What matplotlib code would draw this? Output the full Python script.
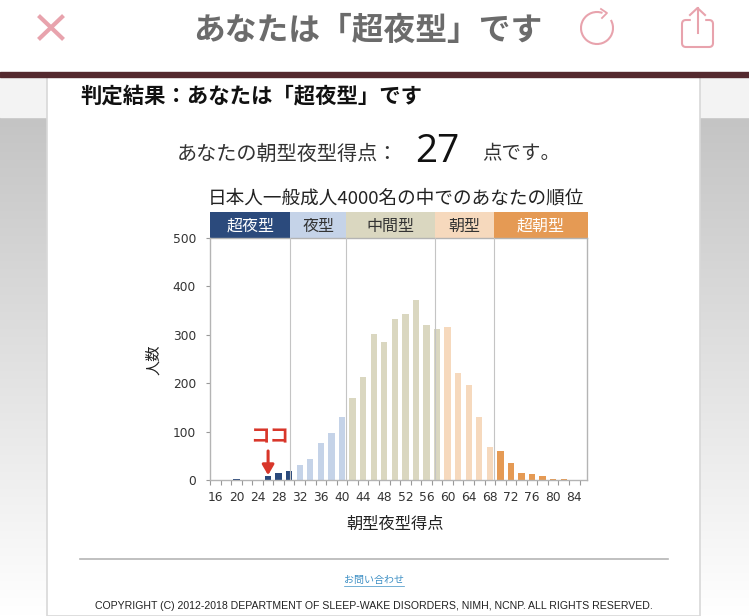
import numpy as np
import matplotlib
matplotlib.use('Agg')
import matplotlib.pyplot as plt
from matplotlib.patches import Rectangle, Arc, FancyBboxPatch

plt.rcParams['font.family'] = ['Noto Sans CJK JP', 'DejaVu Sans']

# Datos
puntajes = [16, 18, 20, 22, 24, 26, 28, 30, 32, 34, 36, 38, 40, 42, 44, 46, 48, 50,
            52, 54, 56, 58, 60, 62, 64, 66, 68, 70, 72, 74, 76, 78, 80, 82, 84]
personas = [0, 0, 3, 0, 0, 8, 14, 18, 31, 43, 77, 98, 131, 170, 213, 302, 285, 332,
            342, 371, 321, 311, 316, 222, 197, 131, 69, 60, 35, 14, 12, 8, 3, 2, 0]
tipos = ['超夜型', '夜型', '中間型', '朝型', '超朝型']
ultimo_puntaje = [30, 40, 58, 68, 84]
limites = [30.2, 40.8, 57.7, 68.7]
colores = ['#2b4a7c', '#c5d3e8', '#dad7c0', '#f6d9bd', '#e59a54']
colores_texto = ['white', '#333333', '#333333', '#333333', 'white']
etiquetas_x = [16, 20, 24, 28, 32, 36, 40, 44, 48, 52, 56, 60, 64, 68, 72, 76, 80, 84]
etiquetas_y = [0, 100, 200, 300, 400, 500]

W, H = 749, 616
fig = plt.figure(figsize=(W / 100, H / 100), dpi=100)

# Fondo de la pantalla, en pixeles
bg = fig.add_axes([0, 0, 1, 1], zorder=0)
degradado = np.linspace(0, 1, 256).reshape(-1, 1)
bg.imshow(degradado, extent=[0, W, H, 117], cmap=matplotlib.colors.LinearSegmentedColormap.from_list('g', ['#c4c4c4', '#ffffff']),
          aspect='auto', zorder=0)
bg.set_xlim(0, W)
bg.set_ylim(H, 0)
bg.axis('off')
bg.add_patch(Rectangle((0, 77), W, 40, color='#f3f3f3', zorder=1))
bg.add_patch(Rectangle((0, 72), W, 5, color='#54292e', zorder=3))
bg.add_patch(Rectangle((47, 77), 653, H - 77, facecolor='white', edgecolor='#d8d8d8', lw=1.2, zorder=2))

# Barra superior
bg.text(367.5, 31, 'あなたは「超夜型」です', fontsize=22.9, fontweight='bold', color='#6b6b6b',
        ha='center', va='center', zorder=4)
rosa = '#e8a3ad'
bg.plot([40, 62], [17, 38], color=rosa, lw=3, zorder=4)
bg.plot([62, 40], [17, 38], color=rosa, lw=3, zorder=4)
bg.add_patch(Arc((597, 28), 32, 32, theta1=-30, theta2=290, color=rosa, lw=1.5, zorder=4))
bg.plot([601, 607, 602], [9, 13, 18], color=rosa, lw=1.3, zorder=4)
bg.add_patch(FancyBboxPatch((682, 20), 31, 27, boxstyle='round,pad=0,rounding_size=4',
                            facecolor='none', edgecolor=rosa, lw=1.5, zorder=4))
bg.add_patch(Rectangle((691, 14), 13, 10, color='white', zorder=4))
bg.plot([697.5, 697.5], [8, 33], color=rosa, lw=1.5, zorder=5)
bg.plot([690, 697.5, 705], [15, 8, 15], color=rosa, lw=1.5, zorder=5)

# Textos de la tarjeta
bg.text(80, 96, '判定結果：あなたは「超夜型」です', fontsize=15.4, fontweight='bold', color='#111111',
        va='center', zorder=4)
bg.text(177, 154, 'あなたの朝型夜型得点：', fontsize=14.5, color='#333333', va='center', zorder=4)
bg.text(437, 152, '27', fontsize=28, color='#111111', ha='center', va='center', family='Open Sans', zorder=4)
bg.text(482, 154, '点です。', fontsize=14, color='#333333', va='center', zorder=4)
bg.text(396, 198, '日本人一般成人4000名の中でのあなたの順位', fontsize=13.4, color='#222222',
        ha='center', va='center', zorder=4)
bg.text(154, 360, '人数', fontsize=11, rotation=90, color='#222222', ha='center', va='center', zorder=4)
bg.text(395, 524, '朝型夜型得点', fontsize=11.7, color='#222222', ha='center', va='center', zorder=4)

# Pie de pagina
bg.plot([80, 668], [559, 559], color='#b5b5b5', lw=1.2, zorder=4)
bg.text(374, 580, 'お問い合わせ', fontsize=7.2, color='#3d8fc4', ha='center', va='center', zorder=4)
bg.plot([344, 404], [585.5, 585.5], color='#3d8fc4', lw=0.5, zorder=4)
bg.text(374, 606, 'COPYRIGHT (C) 2012-2018 DEPARTMENT OF SLEEP-WAKE DISORDERS, NIMH, NCNP. ALL RIGHTS RESERVED.',
        fontsize=7.6, color='#222222', ha='center', va='center', family='Liberation Sans', zorder=4)

# Grafica
ax = fig.add_axes([210 / W, (H - 480) / H, 377 / W, 242 / H], zorder=1)
ax.set_xlim(15, 86.4)
ax.set_ylim(0, 500)

bordes = [15] + limites + [86.6]
colores_barras = []
for p in puntajes:
    for i in range(5):
        if p <= ultimo_puntaje[i]:
            colores_barras.append(colores[i])
            break
ax.bar(puntajes, personas, width=1.2, color=colores_barras, zorder=2)

for x in limites:
    ax.axvline(x, color='#c4c4c4', lw=0.8, zorder=3)

# Bandas de tipo encima de la grafica
for i, tipo in enumerate(tipos):
    ax.add_patch(Rectangle((bordes[i], 1.0), bordes[i + 1] - bordes[i], 0.107, color=colores[i],
                           transform=ax.get_xaxis_transform(), clip_on=False, lw=0))
    ax.text((bordes[i] + bordes[i + 1]) / 2, 1.048, tipo, color=colores_texto[i], fontsize=11.5,
            ha='center', va='center', transform=ax.get_xaxis_transform())

ax.set_xticks(etiquetas_x)
ax.set_xticklabels(etiquetas_x, fontsize=8.8, color='#333333', family='DejaVu Sans')
ax.set_xticks(np.arange(15, 87, 2), minor=True)
ax.tick_params(axis='x', which='major', length=0, pad=8)
ax.tick_params(axis='x', which='minor', length=3.5, color='#999999', width=0.8)
ax.set_yticks(etiquetas_y)
ax.set_yticklabels(etiquetas_y, fontsize=8.8, color='#333333', family='DejaVu Sans')
ax.tick_params(axis='y', length=3, color='#999999', width=0.8, pad=7)
for lado in ax.spines.values():
    lado.set_color('#b4b4b4')
    lado.set_linewidth(1)

# Marca de la posicion
ax.annotate('', xy=(26, 10), xytext=(26, 60),
            arrowprops=dict(arrowstyle='-|>,head_width=0.35,head_length=0.6', color='#d8362a', lw=2.2, shrinkA=0, shrinkB=0))
ax.text(26.3, 89, 'ココ', color='#d8362a', fontsize=14, fontweight='bold', ha='center', va='center')

fig.savefig('out.png', dpi=100)
